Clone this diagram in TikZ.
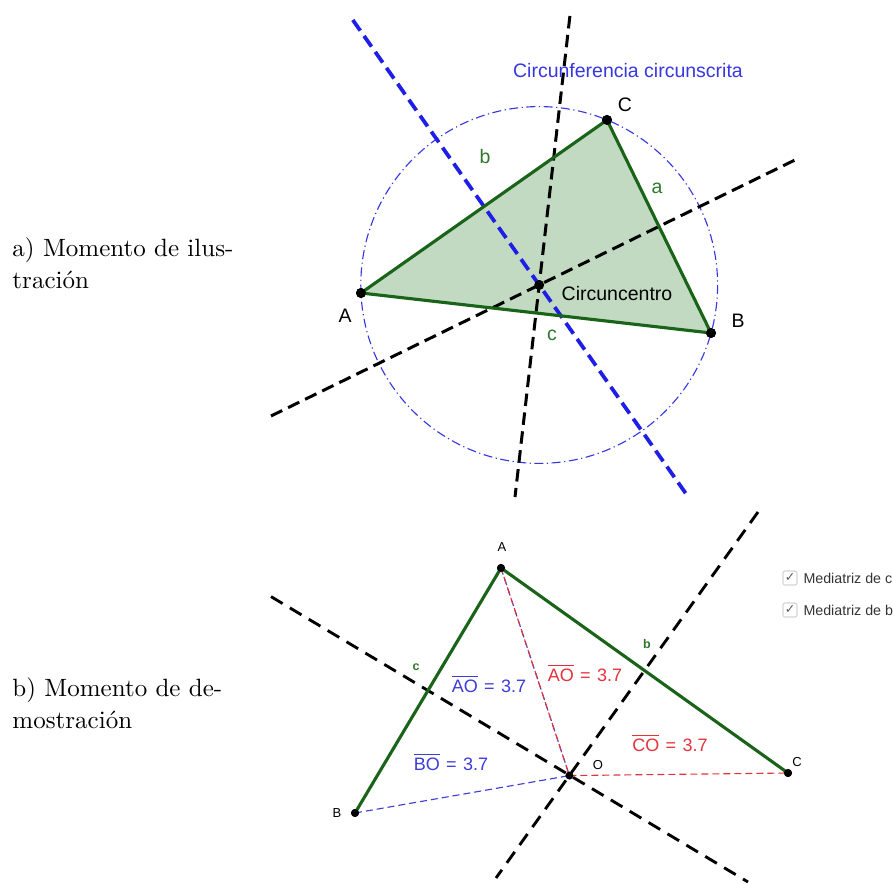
\documentclass[tikz,border=0pt]{standalone}
\usepackage{fontspec}
\newfontfamily\geo{Liberation Sans}
\newfontfamily\dejavu{DejaVu Sans}
\definecolor{ggreen}{RGB}{25,100,25}
\definecolor{gfill}{RGB}{194,218,194}
\definecolor{gblue}{RGB}{30,30,230}
\definecolor{gcirc}{RGB}{55,55,225}
\definecolor{gbluetxt}{RGB}{60,60,215}
\definecolor{gred}{RGB}{228,50,60}
\definecolor{glabel}{RGB}{45,120,45}
\definecolor{boxgray}{RGB}{215,215,215}
\newcommand{\myovl}[1]{$\overline{\hbox{#1}}$}
\begin{document}
\begin{tikzpicture}[x=0.4pt,y=-0.4pt,
  ptbig/.style={circle,fill=black,inner sep=0pt,minimum size=4pt},
  ptsmall/.style={circle,fill=black,inner sep=0pt,minimum size=3.2pt},
  biglbl/.style={font=\geo\fontsize{7.8}{9}\selectfont,inner sep=0pt},
  smalllbl/.style={font=\geo\fontsize{5.2}{6}\selectfont,inner sep=0pt},
  sidelbl/.style={font=\geo\fontsize{7.8}{9}\selectfont,text=glabel,inner sep=0pt},
  sidelblsmall/.style={font=\geo\bfseries\fontsize{5}{6}\selectfont,text=glabel,inner sep=0pt},
  eqlbl/.style={font=\geo\fontsize{7.2}{9}\selectfont,inner sep=0pt},
  captxt/.style={font=\fontsize{10}{12}\selectfont,anchor=base west,inner sep=0pt},
  edge/.style={draw=ggreen,line width=1.25pt,line join=round},
  blackdash/.style={draw=black,line width=1.2pt,dash pattern=on 5pt off 2.6pt},
  bluedash/.style={draw=gblue,line width=1.5pt,dash pattern=on 5.2pt off 2.6pt},
  blackdashb/.style={draw=black,line width=1.15pt,dash pattern=on 5.4pt off 3.4pt},
  thindash/.style={line width=0.45pt,dash pattern=on 2.8pt off 1.6pt},
  cbox/.style={draw=boxgray,fill=white,rounded corners=0.8pt,line width=0.5pt,minimum size=5.6pt,inner sep=0pt}
]
\useasboundingbox (0,0) rectangle (893,884);

% ---------------- captions ----------------
\node[captxt] (capa1) at (12,257) {a) Momento de ilus-};
\node[captxt] (capa2) at (12,289) {tración};
\node[captxt] (capb1) at (12,697) {b) Momento de de-};
\node[captxt] (capb2) at (12,729) {mostración};

% ---------------- top figure ----------------
\coordinate (O1) at (539.2,285);
\node[ptbig] (A1) at (361,293) {};
\node[ptbig] (B1) at (711,333) {};
\node[ptbig] (C1) at (607,120) {};

\fill[gfill] (A1.center) -- (B1.center) -- (C1.center) -- cycle;

\draw[gcirc,line width=0.45pt,dash pattern=on 3.6pt off 1.4pt on 0.5pt off 1.4pt] (O1) circle[radius=178.4];

\coordinate (bl1) at (352.8,20);
\coordinate (bl2) at (688.3,497);
\coordinate (vk1) at (569.9,16);
\coordinate (vk2) at (515,497);
\coordinate (dk1) at (271,416);
\coordinate (dk2) at (797,159);
\draw[bluedash] (bl1) -- (bl2);
\draw[blackdash] (vk1) -- (vk2);
\draw[blackdash] (dk1) -- (dk2);

\draw[edge] (A1.center) -- (B1.center) -- (C1.center) -- cycle;

\node[ptbig] (O1dot) at (O1) {};
\node[ptbig] at (A1) {};
\node[ptbig] at (B1) {};
\node[ptbig] at (C1) {};

\node[biglbl,text=gcirc] (circlbl) at (628,71) {Circunferencia circunscrita};
\node[biglbl] (Clbl1) at (625,105) {C};
\node[biglbl] (Albl1) at (345,316) {A};
\node[biglbl] (Blbl1) at (738,321) {B};
\node[biglbl] (cclbl) at (617,294) {Circuncentro};
\node[sidelbl] (bside1) at (485,157) {b};
\node[sidelbl] (aside1) at (657,188) {a};
\node[sidelbl] (cside1) at (552,335) {c};

% ---------------- bottom figure ----------------
\node[ptsmall] (A2) at (501,568) {};
\node[ptsmall] (B2) at (355,813) {};
\node[ptsmall] (C2) at (788,773) {};
\coordinate (O2) at (569.4,775.6);

\coordinate (p1) at (271,596.6);
\coordinate (p2) at (748,882);
\coordinate (q1) at (758,512);
\coordinate (q2) at (496,878);
\draw[blackdashb] (p1) -- (p2);
\draw[blackdashb] (q1) -- (q2);

\draw[edge] (B2.center) -- (A2.center) -- (C2.center);

\draw[thindash,draw=gbluetxt] (A2.center) -- (O2);
\draw[thindash,draw=gred,dash phase=0.7pt] (A2.center) -- (O2);
\draw[thindash,draw=gbluetxt] (B2.center) -- (O2);
\draw[thindash,draw=gred] (O2) -- (C2.center);

\node[ptsmall] (O2dot) at (O2) {};
\node[ptsmall] at (A2) {};
\node[ptsmall] at (B2) {};
\node[ptsmall] at (C2) {};

\node[smalllbl] (Albl2) at (502,547) {A};
\node[smalllbl] (Blbl2) at (337,813) {B};
\node[smalllbl] (Clbl2) at (797,762) {C};
\node[smalllbl] (Olbl2) at (598,765) {O};
\node[sidelblsmall] (cside2) at (416,667) {c};
\node[sidelblsmall] (bside2) at (647,644) {b};

\node[eqlbl,text=gbluetxt] (eqAOb) at (489,684) {\myovl{AO}\hspace{0.35em}=\hspace{0.35em}3.7};
\node[eqlbl,text=gred] (eqAOr) at (585,673) {\myovl{AO}\hspace{0.35em}=\hspace{0.35em}3.7};
\node[eqlbl,text=gred] (eqCO) at (670,743) {\myovl{CO}\hspace{0.35em}=\hspace{0.35em}3.7};
\node[eqlbl,text=gbluetxt] (eqBO) at (451,762) {\myovl{BO}\hspace{0.35em}=\hspace{0.35em}3.7};

% checkboxes
\node[cbox] (box1) at (790,578) {};
\node[cbox] (box2) at (790,610) {};
\node[font=\dejavu\fontsize{5}{6}\selectfont,text=black!65,inner sep=0pt] (chk1) at (box1) {✓};
\node[font=\dejavu\fontsize{5}{6}\selectfont,text=black!65,inner sep=0pt] (chk2) at (box2) {✓};
\node[font=\geo\fontsize{5.7}{7}\selectfont,text=black!80,anchor=west,inner sep=0pt] (mc) at (803,578) {Mediatriz de c};
\node[font=\geo\fontsize{5.7}{7}\selectfont,text=black!80,anchor=west,inner sep=0pt] (mb) at (803,610) {Mediatriz de b};
\end{tikzpicture}
\end{document}
